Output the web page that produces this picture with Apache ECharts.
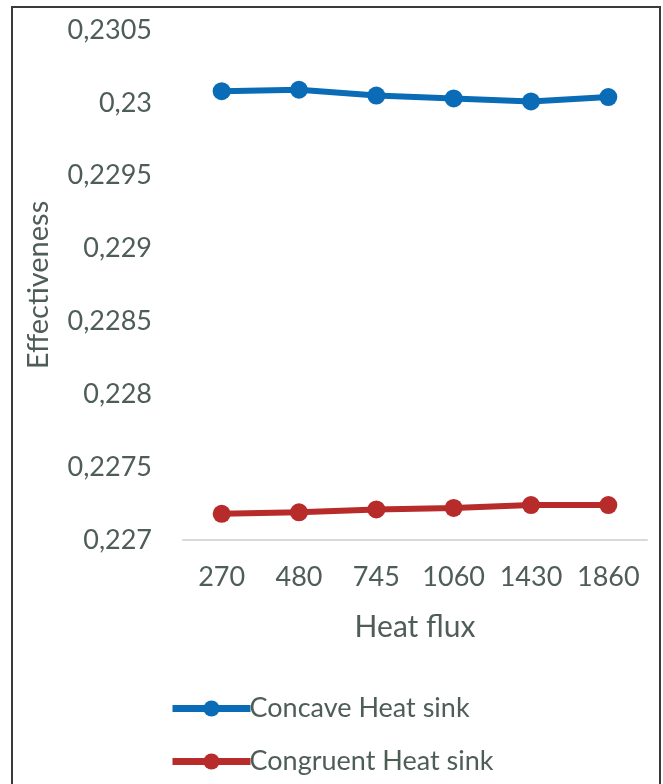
<!DOCTYPE html>
<html>
<head>
<meta charset="utf-8">
<script src="https://cdn.jsdelivr.net/npm/echarts@6/dist/echarts.min.js"></script>
<style>
  html, body { margin: 0; padding: 0; background: #fff; }
  #chart { width: 663px; height: 784px; }
</style>
</head>
<body>
<div id="chart"></div>
<script>
// heat flux categories
var heatFlux = ['270', '480', '745', '1060', '1430', '1860'];
// effectiveness values
var concave = [0.23008, 0.23009, 0.23005, 0.23003, 0.23001, 0.23004];
var congruent = [0.22718, 0.22719, 0.22721, 0.22722, 0.22724, 0.22724];

var textColor = '#4f5d57';
var fontName = 'Lato';

var myChart = echarts.init(document.getElementById('chart'));

var option = {
    backgroundColor: '#fff',
    textStyle: { fontFamily: fontName },
    graphic: [{
        type: 'rect',
        shape: { x: 12, y: 7, width: 648, height: 800 },
        style: { fill: 'none', stroke: '#3a3a3a', lineWidth: 2 }
    }],
    grid: { left: 183, right: 16, top: 30, bottom: 244 },
    legend: {
        orient: 'vertical',
        left: 164,
        top: 690,
        itemWidth: 78,
        itemHeight: 20,
        itemGap: 26,
        lineStyle: { width: 7 },
        textStyle: { color: textColor, fontSize: 27, fontFamily: fontName, padding: [0, 0, 0, -6] },
        data: ['Concave Heat sink', 'Congruent Heat sink']
    },
    xAxis: {
        type: 'category',
        data: heatFlux,
        boundaryGap: true,
        name: 'Heat flux',
        nameLocation: 'middle',
        nameGap: 72,
        nameTextStyle: { color: textColor, fontSize: 30, fontFamily: fontName },
        axisLine: { lineStyle: { color: '#d9d9d9', width: 2 } },
        axisTick: { show: false },
        axisLabel: { color: textColor, fontSize: 27, margin: 24, interval: 0, fontFamily: fontName }
    },
    yAxis: {
        type: 'value',
        min: 0.227,
        max: 0.2305,
        interval: 0.0005,
        name: 'Effectiveness',
        nameLocation: 'middle',
        nameGap: 130,
        nameTextStyle: { color: textColor, fontSize: 29, fontFamily: fontName },
        axisLine: { show: false },
        axisTick: { show: false },
        splitLine: { show: false },
        axisLabel: {
            color: textColor,
            fontSize: 27,
            margin: 31,
            fontFamily: fontName,
            formatter: function (v) {
                return parseFloat(v.toFixed(4)).toString().replace('.', ',');
            }
        }
    },
    series: [{
        name: 'Concave Heat sink',
        type: 'line',
        data: concave,
        symbol: 'circle',
        symbolSize: 18,
        lineStyle: { width: 6, color: '#0a6cb6' },
        itemStyle: { color: '#0a6cb6' }
    }, {
        name: 'Congruent Heat sink',
        type: 'line',
        data: congruent,
        symbol: 'circle',
        symbolSize: 18,
        lineStyle: { width: 6, color: '#b82b2b' },
        itemStyle: { color: '#b82b2b' }
    }]
};

myChart.setOption(option);
</script>
</body>
</html>
